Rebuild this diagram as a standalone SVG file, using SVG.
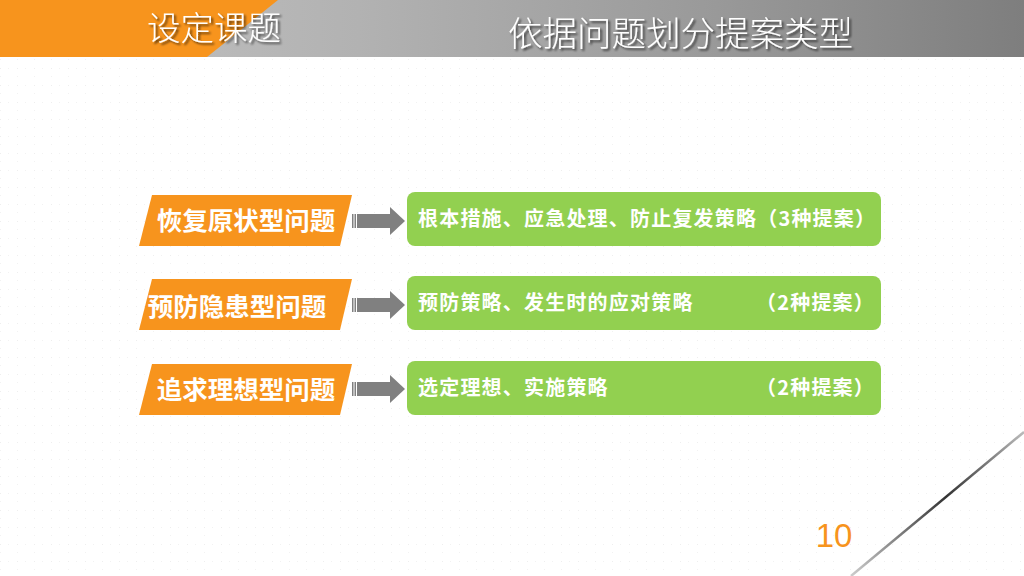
<svg xmlns="http://www.w3.org/2000/svg" width="1024" height="576" viewBox="0 0 1024 576">
  <defs>
    <style>
      .hdr { font-family: "Noto Sans CJK SC", "Noto Sans", sans-serif; font-weight: 300; fill: #ffffff; }
      .lbl { font-family: "Noto Sans CJK SC", "Noto Sans", sans-serif; font-weight: 700; fill: #ffffff; font-size: 25.5px; }
      .txt { font-family: "Noto Sans CJK SC", "Noto Sans", sans-serif; font-weight: 700; fill: #ffffff; font-size: 20px; letter-spacing: 1.2px; }
      .para { fill: #F7941D; }
      .box { fill: #92D050; }
      .arr { fill: #808080; }
    </style>
    <linearGradient id="gray" x1="0" y1="0" x2="1" y2="0">
      <stop offset="0" stop-color="#c4c4c4"/>
      <stop offset="0.35" stop-color="#b2b2b2"/>
      <stop offset="0.7" stop-color="#999999"/>
      <stop offset="1" stop-color="#7e7e7e"/>
    </linearGradient>
    <linearGradient id="ln" gradientUnits="userSpaceOnUse" x1="1024" y1="432" x2="851" y2="576">
      <stop offset="0" stop-color="#bbbbbb"/>
      <stop offset="0.45" stop-color="#333333"/>
      <stop offset="1" stop-color="#cccccc"/>
    </linearGradient>
    <filter id="sh" x="-10%" y="-20%" width="130%" height="160%">
      <feDropShadow dx="2" dy="2" stdDeviation="1" flood-color="#000000" flood-opacity="0.6"/>
    </filter>
    <pattern id="dots" width="17" height="17" patternUnits="userSpaceOnUse">
      <rect x="0" y="0" width="1" height="1" fill="#eeeeee"/>
      <rect x="8" y="0" width="1" height="1" fill="#f2f2f2"/>
      <rect x="0" y="8" width="1" height="1" fill="#f2f2f2"/>
    </pattern>
    <g id="striped">
      <rect x="0" y="-7" width="1.5" height="14"/>
      <rect x="2.5" y="-7" width="1.5" height="14"/>
      <rect x="5" y="-7" width="33" height="14"/>
      <polygon points="38,-14 53,0 38,14"/>
    </g>
  </defs>

  <rect x="0" y="0" width="1024" height="576" fill="#ffffff"/>
  <rect x="0" y="57" width="1024" height="519" fill="url(#dots)"/>

  <g id="header">
    <rect x="0" y="0" width="1024" height="57" fill="url(#gray)"/>
    <polygon points="0,0 278,0 207,57 0,57" fill="#F7941D"/>
    <text class="hdr" x="147" y="40" font-size="33.5" filter="url(#sh)">设定课题</text>
    <text class="hdr" x="508" y="46" font-size="34.5" filter="url(#sh)">依据问题划分提案类型</text>
  </g>

  <g id="row1-problem">
    <polygon class="para" points="152,195 352,195 340,246 139,246"/>
    <text class="lbl" x="246" y="230" text-anchor="middle">恢复原状型问题</text>
  </g>
  <g id="row2-problem">
    <polygon class="para" points="152,279 352,279 340,330 139,330"/>
    <text class="lbl" x="237" y="316" text-anchor="middle">预防隐患型问题</text>
  </g>
  <g id="row3-problem">
    <polygon class="para" points="152,364 352,364 340,415 139,415"/>
    <text class="lbl" x="246" y="399" text-anchor="middle">追求理想型问题</text>
  </g>

  <g id="row1-proposal">
    <rect class="box" x="407" y="192" width="474" height="54" rx="8"/>
    <text class="txt" x="418" y="226">根本措施、应急处理、防止复发策略（3种提案）</text>
  </g>
  <g id="row2-proposal">
    <rect class="box" x="407" y="276" width="474" height="54" rx="8"/>
    <text class="txt" x="418" y="310">预防策略、发生时的应对策略</text>
    <text class="txt" x="875" y="310" text-anchor="end">（2种提案）</text>
  </g>
  <g id="row3-proposal">
    <rect class="box" x="407" y="361" width="474" height="54" rx="8"/>
    <text class="txt" x="418" y="395">选定理想、实施策略</text>
    <text class="txt" x="875" y="395" text-anchor="end">（2种提案）</text>
  </g>

  <g id="connectors" class="arr">
    <use href="#striped" x="352" y="221"/>
    <use href="#striped" x="352" y="305"/>
    <use href="#striped" x="352" y="389"/>
  </g>

  <g id="decoration">
    <line x1="1024" y1="432" x2="851" y2="576" stroke="url(#ln)" stroke-width="2.5"/>
    <text x="834" y="547" text-anchor="middle" font-family="'Liberation Sans', sans-serif" font-size="33" fill="#F7941D">10</text>
  </g>
</svg>
